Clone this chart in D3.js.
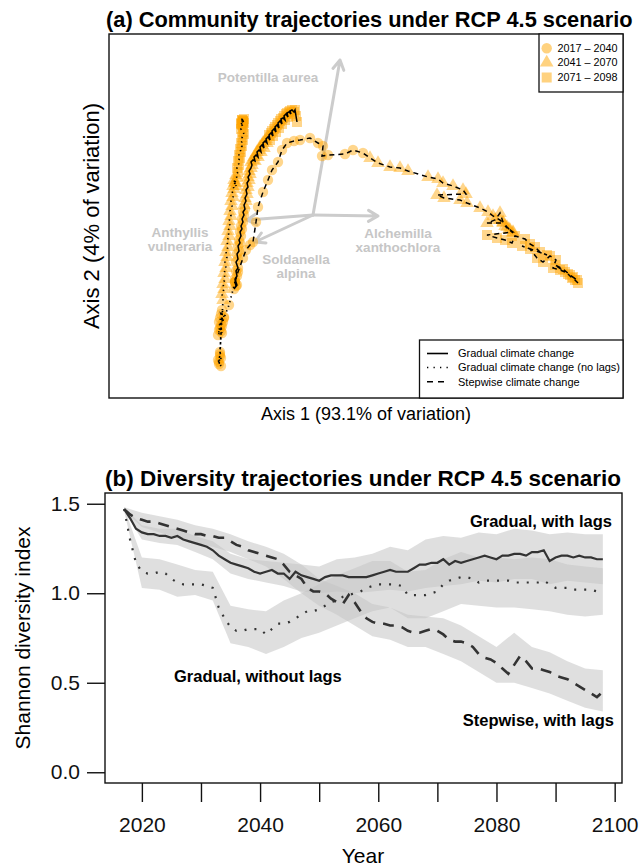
<!DOCTYPE html>
<html>
<head>
<meta charset="utf-8">
<script src="https://cdn.jsdelivr.net/npm/d3@7"></script>
<style>
  body { margin: 0; background: #fff; }
  svg text { font-family: "Liberation Sans", Arial, Helvetica, sans-serif; }
</style>
</head>
<body>
<svg id="chart" width="640" height="866"></svg>
<script>
// ---------- panel (a): ordination scores, one value per year ----------
const years = d3.range(2017, 2099);
const periodLabels = ["2017 \u2013 2040", "2041 \u2013 2070", "2071 \u2013 2098"];
const periodEnds = [2040, 2070, 2098];

const gradAx1 = [-0.78,-0.77,-0.79,-0.76,-0.78,-0.76,-0.77,-0.75,-0.77,-0.75,
  -0.76,-0.74,-0.75,-0.73,-0.74,-0.72,-0.73,-0.71,-0.72,-0.70,
  -0.71,-0.69,-0.70,-0.68,-0.69,-0.67,-0.68,-0.66,-0.67,-0.65,
  -0.66,-0.64,-0.65,-0.63,-0.64,-0.62,-0.61,-0.62,-0.60,-0.58,
  -0.59,-0.57,-0.55,-0.56,-0.54,-0.52,-0.53,-0.51,-0.49,-0.50,
  -0.48,-0.46,-0.47,-0.45,-0.43,-0.44,-0.42,-0.40,-0.41,-0.39,
  -0.37,-0.38,-0.36,-0.34,-0.35,-0.33,-0.31,-0.32,-0.30,-0.28,
  -0.29,-0.27,-0.25,-0.26,-0.24,-0.22,-0.23,-0.21,-0.19,-0.18,
  -0.17,-0.16];
const gradAx2 = [-0.67,-0.71,-0.74,-0.70,-0.64,-0.61,-0.56,-0.53,-0.47,-0.44,
  -0.39,-0.36,-0.31,-0.28,-0.25,-0.21,-0.17,-0.14,-0.11,-0.07,
  -0.04,0.00,0.03,0.06,0.10,0.14,0.17,0.21,0.25,0.28,
  0.32,0.35,0.38,0.41,0.44,0.47,0.50,0.53,0.55,0.54,
  0.58,0.60,0.58,0.63,0.65,0.63,0.68,0.70,0.67,0.72,
  0.74,0.72,0.76,0.78,0.75,0.80,0.82,0.79,0.84,0.86,
  0.83,0.88,0.90,0.87,0.92,0.94,0.91,0.96,0.97,0.95,
  0.99,1.01,0.98,1.02,1.03,1.01,1.04,1.05,1.03,1.05,
  0.99,0.93];

const noLagAx1 = [-0.78,-0.84,-0.89,-0.92,-0.94,-0.91,-0.93,-0.95,-0.92,-0.94,
  -0.91,-0.93,-0.90,-0.92,-0.89,-0.91,-0.93,-0.94,-0.92,-0.95,
  -0.93,-0.94,-0.92,-0.93,-0.90,-0.91,-0.89,-0.90,-0.88,-0.89,
  -0.87,-0.88,-0.86,-0.87,-0.85,-0.86,-0.84,-0.85,-0.83,-0.84,
  -0.82,-0.83,-0.81,-0.82,-0.80,-0.81,-0.79,-0.80,-0.78,-0.79,
  -0.77,-0.78,-0.76,-0.77,-0.75,-0.76,-0.74,-0.75,-0.73,-0.74,
  -0.72,-0.73,-0.71,-0.72,-0.70,-0.71,-0.69,-0.70,-0.72,-0.70,
  -0.71,-0.69,-0.70,-0.72,-0.70,-0.71,-0.69,-0.70,-0.72,-0.71,
  -0.70,-0.71];
const noLagAx2 = [-0.67,-0.90,-1.03,-1.10,-1.15,-1.18,-1.13,-1.20,-1.16,-1.07,
  -1.11,-1.03,-1.07,-0.99,-1.02,-0.95,-1.39,-1.47,-1.51,-1.45,
  -1.41,-1.49,-1.43,-1.37,-0.85,-0.79,-0.74,-0.69,-0.64,-0.58,
  -0.53,-0.47,-0.42,-0.37,-0.32,-0.26,-0.21,-0.16,-0.11,-0.06,
  -0.01,0.04,0.09,0.14,0.18,0.22,0.26,0.29,0.32,0.35,
  0.29,0.33,0.37,0.40,0.43,0.47,0.50,0.54,0.57,0.60,
  0.63,0.66,0.69,0.72,0.75,0.78,0.81,0.83,0.86,0.88,
  0.90,0.92,0.94,0.91,0.93,0.95,0.96,0.94,0.92,0.95,
  0.93,0.91];

const stepAx1 = [-0.78,-0.75,-0.70,-0.67,-0.63,-0.60,-0.57,-0.55,-0.50,-0.45,
  -0.41,-0.35,-0.31,-0.26,-0.19,-0.13,-0.03,0.05,0.10,0.09,
  0.15,0.32,0.40,0.50,0.57,0.65,0.77,0.87,0.95,1.15,
  1.25,1.30,1.40,1.50,1.53,1.24,1.31,1.47,1.54,1.67,
  1.75,1.80,1.87,1.90,1.74,1.82,1.87,1.90,1.94,1.97,
  2.00,1.92,1.96,2.00,1.74,1.84,1.92,1.99,2.02,2.12,
  2.17,2.22,2.27,2.34,2.09,2.17,2.24,2.30,2.37,2.43,
  2.40,2.47,2.52,2.42,2.50,2.57,2.60,2.64,2.55,2.59,
  2.62,2.65];
const stepAx2 = [-0.67,-0.57,-0.43,-0.35,-0.30,-0.27,-0.07,0.08,0.23,0.35,
  0.45,0.53,0.65,0.72,0.74,0.75,0.77,0.72,0.69,0.59,
  0.60,0.61,0.65,0.62,0.57,0.52,0.48,0.47,0.44,0.38,
  0.36,0.32,0.29,0.25,0.21,0.20,0.17,0.15,0.12,0.07,
  0.03,-0.01,-0.05,-0.08,-0.08,-0.05,0.02,-0.07,-0.12,-0.15,
  -0.18,-0.11,-0.14,-0.17,-0.20,-0.23,-0.25,-0.28,-0.21,-0.24,
  -0.29,-0.32,-0.37,-0.40,-0.31,-0.34,-0.43,-0.47,-0.41,-0.45,
  -0.53,-0.55,-0.57,-0.50,-0.54,-0.60,-0.62,-0.65,-0.59,-0.63,
  -0.65,-0.68];

// species vectors (biplot arrows) and where their names sit
const species = ["Potentilla aurea", "Alchemilla\nxanthochlora", "Anthyllis\nvulneraria", "Soldanella\nalpina"];
const speciesAx1 = [0.27, 0.65, -0.66, -0.58];
const speciesAx2 = [1.55, -0.01, -0.05, -0.27];
const speciesLabAx1 = [-0.45, 0.85, -1.33, -0.17];
const speciesLabAx2 = [1.38, -0.18, -0.17, -0.44];

const scenarios = ["Gradual climate change", "Gradual climate change (no lags)", "Stepwise climate change"];

// ---------- panel (b): Shannon diversity ----------
const shannonGradual = [1.47,1.42,1.36,1.34,1.33,1.33,1.32,1.32,1.31,1.32,
  1.30,1.29,1.28,1.27,1.26,1.24,1.21,1.19,1.17,1.16,
  1.15,1.14,1.12,1.11,1.12,1.13,1.11,1.11,1.08,1.12,
  1.10,1.09,1.08,1.07,1.09,1.10,1.10,1.10,1.09,1.09,
  1.09,1.09,1.10,1.11,1.12,1.13,1.12,1.12,1.12,1.14,
  1.16,1.16,1.17,1.17,1.19,1.16,1.18,1.17,1.18,1.19,
  1.20,1.21,1.20,1.19,1.21,1.21,1.22,1.22,1.21,1.23,
  1.23,1.24,1.18,1.20,1.21,1.21,1.20,1.21,1.20,1.20,
  1.19,1.19];
const shannonNoLag = [1.47,1.30,1.17,1.12,1.11,1.11,1.12,1.11,1.08,1.06,
  1.05,1.05,1.05,1.05,1.04,1.03,0.92,0.86,0.81,0.79,
  0.79,0.80,0.80,0.80,0.77,0.80,0.83,0.83,0.84,0.86,
  0.88,0.90,0.90,0.91,0.93,0.95,0.96,0.98,0.99,1.00,
  1.01,1.03,1.04,1.05,1.05,1.05,1.05,1.04,0.99,0.99,
  0.99,0.99,1.00,1.01,1.05,1.07,1.08,1.09,1.09,1.08,
  1.06,1.07,1.07,1.07,1.07,1.07,1.06,1.06,1.06,1.06,
  1.06,1.07,1.05,1.03,1.03,1.03,1.02,1.02,1.02,1.02,
  1.01,1.01];
const shannonStep = [1.47,1.44,1.42,1.41,1.40,1.40,1.39,1.38,1.37,1.36,
  1.35,1.34,1.33,1.33,1.32,1.32,1.31,1.31,1.29,1.27,
  1.26,1.24,1.23,1.22,1.21,1.20,1.19,1.16,1.12,1.10,
  1.08,1.03,1.01,1.01,1.00,0.97,0.95,0.94,0.99,0.95,
  0.90,0.86,0.84,0.83,0.83,0.82,0.82,0.81,0.79,0.78,
  0.78,0.79,0.80,0.79,0.77,0.74,0.73,0.73,0.72,0.70,
  0.66,0.64,0.63,0.61,0.58,0.55,0.60,0.65,0.62,0.58,
  0.58,0.57,0.56,0.54,0.53,0.52,0.50,0.48,0.46,0.44,
  0.42,0.45];

// uncertainty bands, read every third year
const bandYears = [2017,2020,2023,2026,2029,2032,2035,2038,2041,2044,2047,2050,2053,2056,
  2059,2062,2065,2068,2071,2074,2077,2080,2083,2086,2089,2092,2095,2098];
const gradLo = [1.46,1.30,1.28,1.27,1.23,1.19,1.11,1.08,1.06,1.04,1.01,1.00,1.01,1.00,
  1.01,1.02,1.01,1.03,1.04,1.05,1.07,1.06,1.08,1.08,1.05,1.07,1.06,1.05];
const gradHi = [1.48,1.38,1.36,1.36,1.32,1.29,1.22,1.19,1.18,1.17,1.16,1.15,1.19,1.20,
  1.22,1.26,1.24,1.30,1.32,1.31,1.34,1.33,1.36,1.35,1.33,1.34,1.33,1.33];
const noLagLo = [1.46,1.03,1.02,0.98,0.99,0.96,0.72,0.70,0.66,0.70,0.75,0.78,0.82,0.86,
  0.90,0.92,0.86,0.86,0.90,0.94,0.93,0.92,0.92,0.91,0.90,0.88,0.87,0.88];
const noLagHi = [1.48,1.20,1.19,1.16,1.13,1.12,0.93,0.91,0.90,0.96,1.00,1.05,1.10,1.14,
  1.18,1.18,1.12,1.13,1.19,1.23,1.20,1.20,1.19,1.20,1.19,1.16,1.15,1.14];
const stepLo = [1.46,1.37,1.34,1.31,1.28,1.26,1.23,1.19,1.15,1.08,1.00,0.93,0.88,0.82,
  0.76,0.74,0.70,0.70,0.66,0.62,0.56,0.50,0.50,0.47,0.44,0.40,0.36,0.34];
const stepHi = [1.48,1.45,1.43,1.41,1.38,1.36,1.33,1.29,1.26,1.22,1.16,1.08,1.04,1.00,
  0.94,0.92,0.88,0.87,0.86,0.82,0.76,0.70,0.78,0.70,0.67,0.62,0.58,0.57];

const yTicks = [0, 0.5, 1.0, 1.5];
const xTicks = [2020, 2030, 2040, 2050, 2060, 2070, 2080, 2090, 2100];
const xTickLabels = [2020, 2040, 2060, 2080, 2100];

// ---------- drawing ----------
const svg = d3.select("#chart");
const ink = "#111";
const orange = "#ffa500";
const arrowGrey = "#cccccc";
const dashA = [null, "1.3 3.6", "5 4"];
const dashB = [null, "2 8", "11 8"];

// ===== panel (a) =====
const xA = d3.scaleLinear().domain([-2.04, 3.10]).range([109, 623]);
const yA = d3.scaleLinear().domain([-1.83, 1.81]).range([398, 34]);
const gA = svg.append("g");

// species arrows
const ox = xA(0), oy = yA(0);
species.forEach((s, i) => {
  const tx = xA(speciesAx1[i]), ty = yA(speciesAx2[i]);
  const ang = Math.atan2(ty - oy, tx - ox);
  const head = 11;
  const path = d3.path();
  path.moveTo(ox, oy); path.lineTo(tx, ty);
  path.moveTo(tx - head * Math.cos(ang - Math.PI / 6), ty - head * Math.sin(ang - Math.PI / 6));
  path.lineTo(tx, ty);
  path.lineTo(tx - head * Math.cos(ang + Math.PI / 6), ty - head * Math.sin(ang + Math.PI / 6));
  gA.append("path").attr("d", path.toString())
    .attr("fill", "none").attr("stroke", arrowGrey)
    .attr("stroke-width", 3).attr("stroke-linejoin", "round").attr("stroke-linecap", "round");

  const lines = s.split("\n");
  const t = gA.append("text")
    .attr("text-anchor", "middle")
    .attr("font-size", 13.5).attr("font-weight", "bold")
    .attr("fill", "#c6c6c6");
  lines.forEach((l, k) => {
    t.append("tspan").attr("x", xA(speciesLabAx1[i])).attr("y", yA(speciesLabAx2[i]) + k * 14)
      .attr("dy", "0.35em").text(l);
  });
});

function period(yr) { return periodEnds.findIndex(e => yr <= e); }
const shapes = [d3.symbolCircle, d3.symbolTriangle, d3.symbolSquare];
const shapeSize = [85, 80, 100];
const sym = i => d3.symbol().type(shapes[i]).size(shapeSize[i])();

const trajectories = [
  [gradAx1, gradAx2],
  [noLagAx1, noLagAx2],
  [stepAx1, stepAx2]
].map(([a1, a2]) => years.map((yr, i) => ({ yr, x: a1[i], y: a2[i] })));

const ptsG = gA.append("g");
trajectories.forEach(tr => {
  ptsG.selectAll(null).data(tr).enter().append("path")
    .attr("d", d => sym(period(d.yr)))
    .attr("transform", d => `translate(${xA(d.x)},${yA(d.y)})`)
    .attr("fill", orange).attr("fill-opacity", 0.45);
});

const lineA = d3.line().x(d => xA(d.x)).y(d => yA(d.y));
trajectories.forEach((tr, i) => {
  gA.append("path").datum(tr).attr("d", lineA)
    .attr("fill", "none").attr("stroke", "#000")
    .attr("stroke-width", i === 1 ? 1.7 : 1.5)
    .attr("stroke-dasharray", dashA[i]);
});

gA.append("rect").attr("x", 109).attr("y", 34).attr("width", 514).attr("height", 364)
  .attr("fill", "none").attr("stroke", ink).attr("stroke-width", 1.4);

// period legend
const legA = gA.append("g");
legA.append("rect").attr("x", 539).attr("y", 34).attr("width", 84).attr("height", 58)
  .attr("fill", "#fff").attr("stroke", ink).attr("stroke-width", 1.3);
periodLabels.forEach((lab, i) => {
  const cy = [48.3, 62.5, 77.5][i];
  legA.append("path").attr("d", sym(i)).attr("transform", `translate(546.7,${cy})`)
    .attr("fill", orange).attr("fill-opacity", 0.5);
  legA.append("text").attr("x", 557.5).attr("y", cy).attr("dy", "0.35em")
    .attr("font-size", 10.8).text(lab);
});

// scenario legend
const legB = gA.append("g");
legB.append("rect").attr("x", 419.5).attr("y", 340).attr("width", 203.5).attr("height", 58)
  .attr("fill", "#fff").attr("stroke", ink).attr("stroke-width", 1.3);
scenarios.forEach((lab, i) => {
  const cy = [353.5, 367.5, 381.8][i];
  legB.append("line").attr("x1", 427).attr("x2", 448).attr("y1", cy).attr("y2", cy)
    .attr("stroke", "#000").attr("stroke-width", 1.6).attr("stroke-dasharray", i === 1 ? "1.3 5.2" : (i === 2 ? "6 5" : null));
  legB.append("text").attr("x", 458).attr("y", cy).attr("dy", "0.35em")
    .attr("font-size", 11).text(lab);
});

svg.append("text").attr("x", 106).attr("y", 27)
  .attr("font-size", 21.8).attr("font-weight", "bold")
  .text("(a) Community trajectories under RCP 4.5 scenario");
svg.append("text").attr("x", 366).attr("y", 420).attr("text-anchor", "middle")
  .attr("font-size", 18).text("Axis 1 (93.1% of variation)");
svg.append("text").attr("transform", "translate(99,216) rotate(-90)").attr("text-anchor", "middle")
  .attr("font-size", 22).text("Axis 2 (4% of variation)");

// ===== panel (b) =====
const xB = d3.scaleLinear().domain([2013.76, 2101.24]).range([105, 622]);
const yB = d3.scaleLinear().domain([-0.06, 1.56]).range([783, 493]);
const gB = svg.append("g");

const bands = [[gradLo, gradHi], [noLagLo, noLagHi], [stepLo, stepHi]]
  .map(([lo, hi]) => bandYears.map((yr, i) => ({ yr, lo: lo[i], hi: hi[i] })));
const area = d3.area().x(d => xB(d.yr)).y0(d => yB(d.lo)).y1(d => yB(d.hi));
bands.forEach(b => {
  gB.append("path").datum(b).attr("d", area)
    .attr("fill", "#c4c4c4").attr("fill-opacity", 0.55);
});

const series = [shannonGradual, shannonNoLag, shannonStep]
  .map(s => years.map((yr, i) => ({ yr, v: s[i] })));
const lineB = d3.line().x(d => xB(d.yr)).y(d => yB(d.v));
series.forEach((s, i) => {
  gB.append("path").datum(s).attr("d", lineB)
    .attr("fill", "none").attr("stroke", "#333")
    .attr("stroke-width", i === 2 ? 2.6 : 2.2)
    .attr("stroke-dasharray", dashB[i]);
});

gB.append("rect").attr("x", 105).attr("y", 493).attr("width", 517).attr("height", 290)
  .attr("fill", "none").attr("stroke", ink).attr("stroke-width", 1.4);

const xAxis = d3.axisBottom(xB).tickValues(xTicks).tickSize(19).tickPadding(15)
  .tickFormat(d => xTickLabels.includes(d) ? d : "");
gB.append("g").attr("transform", "translate(0,783)").call(xAxis)
  .call(g => g.select(".domain").remove())
  .call(g => g.selectAll("line").attr("stroke", ink).attr("stroke-width", 1.4))
  .call(g => g.selectAll("text").attr("font-size", 21).attr("fill", "#111")
    .attr("font-family", "Liberation Sans, Arial, sans-serif"));

const yAxis = d3.axisLeft(yB).tickValues(yTicks).tickSize(18).tickPadding(7)
  .tickFormat(d3.format(".1f"));
gB.append("g").attr("transform", "translate(105,0)").call(yAxis)
  .call(g => g.select(".domain").remove())
  .call(g => g.selectAll("line").attr("stroke", ink).attr("stroke-width", 1.4))
  .call(g => g.selectAll("text").attr("font-size", 21).attr("fill", "#111")
    .attr("font-family", "Liberation Sans, Arial, sans-serif"));

const seriesNames = ["Gradual, with lags", "Gradual, without lags", "Stepwise, with lags"];
const nameX = [612, 174, 614];
const nameY = [527, 682, 726];
const nameAnchor = ["end", "start", "end"];
seriesNames.forEach((n, i) => {
  gB.append("text").attr("x", nameX[i]).attr("y", nameY[i])
    .attr("text-anchor", nameAnchor[i])
    .attr("font-size", 16.5).attr("font-weight", "bold").text(n);
});

svg.append("text").attr("x", 105).attr("y", 486)
  .attr("font-size", 22.5).attr("font-weight", "bold")
  .text("(b)  Diversity trajectories under RCP 4.5 scenario");
svg.append("text").attr("x", 363).attr("y", 863).attr("text-anchor", "middle")
  .attr("font-size", 21).text("Year");
svg.append("text").attr("transform", "translate(30,638) rotate(-90)").attr("text-anchor", "middle")
  .attr("font-size", 21).text("Shannon diversity index");
</script>
</body>
</html>
